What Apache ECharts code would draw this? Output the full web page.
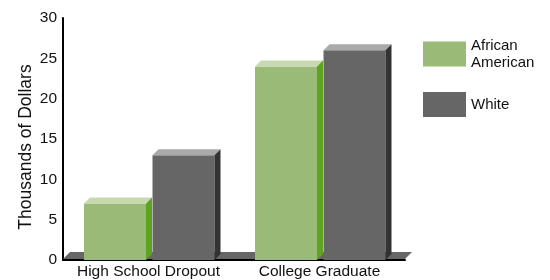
<!doctype html>
<html>
  <head>
    <meta charset="utf-8">
    <title>Earnings chart</title>
    <script src="https://cdn.jsdelivr.net/npm/echarts@6/dist/echarts.min.js"></script>
    <style>
      html, body { margin: 0; padding: 0; background: #fff; }
      #main { width: 550px; height: 280px; }
    </style>
  </head>
  <body>
    <div id="main"></div>
    <script type="text/javascript">
      // data
      var categories = ['High School Dropout', 'College Graduate'];
      var africanAmerican = [7, 24];
      var white = [13, 26];
      var yTicks = [0, 5, 10, 15, 20, 25, 30];

      var FONT = '"Liberation Sans", Arial, sans-serif';

      // one 3D-ish bar: front face, top face, side face
      function barRenderer(offset, front, top, side) {
        return function (params, api) {
          var idx = api.value(0);
          var c = api.coord([idx, api.value(1)]);
          var base = api.coord([idx, 0]);
          var band = api.size([1, 0])[0];
          var s = band / 171;
          var left = c[0] + offset * s;
          var w = 62 * s;
          var d = 6;
          var y0 = c[1], y1 = base[1];
          return {
            type: 'group',
            children: [
              { type: 'rect', shape: { x: left, y: y0, width: w, height: y1 - y0 }, style: { fill: front } },
              { type: 'polygon', shape: { points: [[left, y0], [left + d, y0 - d], [left + w + d, y0 - d], [left + w, y0]] }, style: { fill: top } },
              { type: 'polygon', shape: { points: [[left + w, y0], [left + w + d, y0 - d], [left + w + d, y1 - d], [left + w, y1]] }, style: { fill: side } }
            ]
          };
        };
      }

      var myChart = echarts.init(document.getElementById('main'));
      var option = {
        animation: false,
        grid: { left: 63, top: 18, width: 342, height: 243, containLabel: false },
        legend: {
          data: ['African American', 'White'],
          orient: 'vertical',
          left: 423,
          top: 37,
          padding: 0,
          itemWidth: 43,
          itemHeight: 25,
          itemGap: 21,
          icon: 'rect',
          formatter: function (name) { return name.replace(' ', '\n'); },
          textStyle: { fontFamily: FONT, fontSize: 15, lineHeight: 17, color: '#111' }
        },
        xAxis: {
          type: 'category',
          data: categories,
          axisLine: { lineStyle: { color: '#000', width: 2 } },
          axisTick: { show: false },
          axisLabel: { fontFamily: FONT, fontSize: 15.5, color: '#111', margin: 4, interval: 0 }
        },
        yAxis: {
          type: 'value',
          min: 0,
          max: 30,
          interval: 5,
          name: 'Thousands of Dollars',
          nameLocation: 'middle',
          nameGap: 28,
          nameMoveOverlap: false,
          nameTextStyle: { fontFamily: FONT, fontSize: 17.5, color: '#111', padding: [0, 16, 0, 0] },
          axisLine: { show: true, lineStyle: { color: '#000', width: 2 } },
          axisTick: { show: false },
          splitLine: { show: false },
          axisLabel: {
            fontFamily: FONT, fontSize: 15.5, color: '#111', margin: 6,
            formatter: function (v) { return yTicks.indexOf(v) >= 0 ? String(v) : ''; }
          }
        },
        series: [
          {
            // floor under the bars
            name: 'floor',
            type: 'custom',
            z: 1,
            silent: true,
            data: [[0, 0]],
            renderItem: function (params, api) {
              var cs = params.coordSys;
              var d = 7;
              var yb = cs.y + cs.height - 1;
              return {
                type: 'polygon',
                shape: { points: [[cs.x, yb], [cs.x + d, yb - d], [cs.x + cs.width + d, yb - d], [cs.x + cs.width, yb]] },
                style: { fill: '#666666' }
              };
            }
          },
          {
            name: 'African American',
            type: 'custom',
            z: 3,
            itemStyle: { color: '#99bb77' },
            data: africanAmerican.map(function (v, i) { return [i, v]; }),
            renderItem: barRenderer(-64.5, '#99bb77', '#c8d9b1', '#5fa322')
          },
          {
            name: 'White',
            type: 'custom',
            z: 3,
            itemStyle: { color: '#666666' },
            data: white.map(function (v, i) { return [i, v]; }),
            renderItem: barRenderer(4, '#666666', '#aaaaaa', '#333333')
          }
        ]
      };
      myChart.setOption(option);
    </script>
  </body>
</html>
